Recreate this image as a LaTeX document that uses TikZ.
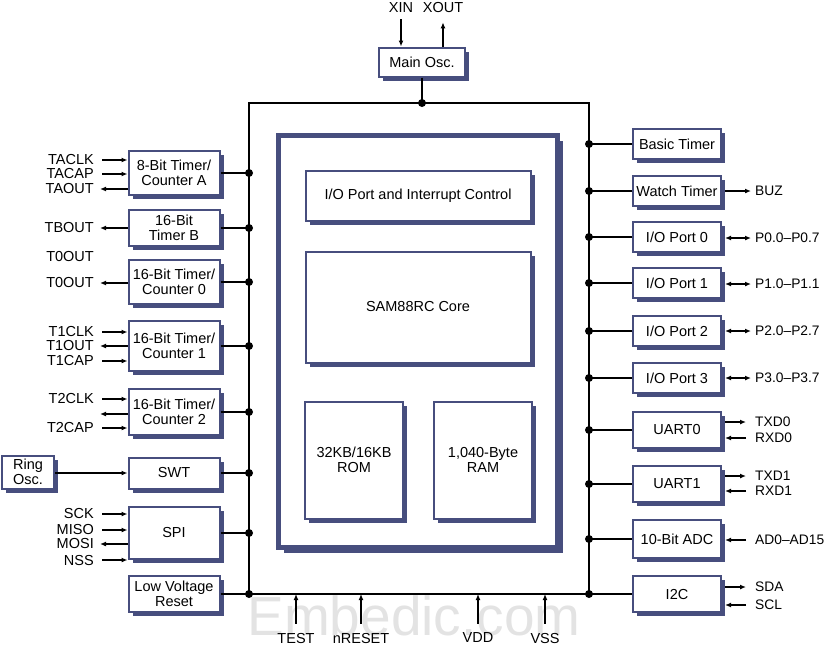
\documentclass[tikz,border=0pt]{standalone}
\usepackage{fontspec}
\setmainfont{Liberation Sans}
\usetikzlibrary{positioning,arrows.meta,calc,shadows}
\definecolor{samblue}{HTML}{474E7E}
\definecolor{wmgray}{HTML}{E3E3E3}
\tikzset{
  blk/.style={draw=samblue, line width=2pt, fill=white, align=center, inner sep=0pt,
    drop shadow={shadow xshift=#1, shadow yshift=-#1, fill=samblue, opacity=1}},
  blk/.default=4pt,
  coreblk/.style={blk=5.5pt, line width=5pt},
  lbox/.style={blk, minimum width=91pt},
  rbox/.style={blk, minimum width=88pt, minimum height=30pt},
  sig/.style={inner sep=0pt},
  lnk/.style={line width=1.2pt},
  sarr/.style={lnk, -{Latex[length=6pt,width=5pt]}},
  darr/.style={lnk, {Latex[length=6pt,width=5pt]}-{Latex[length=6pt,width=5pt]}}
}

\begin{document}
\begin{tikzpicture}[x=1pt, y=-1pt, font=\fontsize{14.5}{15}\selectfont]
    \useasboundingbox (0,0) rectangle (827,648);
    \node[sig, text=wmgray, font=\fontsize{55}{55}\selectfont] (wm) at (414,616) {Embedic.com};
    % core
    \node[coreblk, minimum width=279pt, minimum height=412pt] (core) at (418,341) {};
    \node[blk, minimum width=225pt, minimum height=50pt] (ioc) at (418,196) {I/O Port and Interrupt Control};
    \node[blk, minimum width=225pt, minimum height=111pt] (cpu) at (418,307) {SAM88RC Core};
    \node[blk, minimum width=98pt, minimum height=117pt] (rom) at (354,460) {32KB/16KB\\ROM};
    \node[blk, minimum width=98pt, minimum height=117pt] (ram) at (483,460) {1,040-Byte\\RAM};
    % bus
    \coordinate (tl) at (249,103); \coordinate (tr) at (589,103);
    \coordinate (bl) at (249,594); \coordinate (br) at (589,594);
    \draw[lnk] (bl) -- (tl) -- (tr) -- (br);
    % oscillator
    \node[blk, minimum width=86pt, minimum height=29pt] (osc) at (422,62) {Main Osc.};
    \node[sig] (xin) at (401,8) {XIN};
    \node[sig] (xout) at (443,8) {XOUT};
    \draw[sarr, shorten <=6pt] (xin.south) -- (xin.south |- osc.north);
    \draw[sarr, shorten >=9pt] (xout.south |- osc.north) -- (xout.south);
    \draw[lnk] (osc.south) -- (osc.south |- tl);
    \fill (osc.south |- tl) circle (4pt);
    % left blocks
    \node[lbox, minimum height=44pt] (tmrA) at (174,173) {8-Bit Timer/\\Counter A};
    \node[lbox, minimum height=36pt] (tmrB) at (174,228) {16-Bit\\Timer B};
    \node[lbox, minimum height=44pt] (tmr0) at (174,282) {16-Bit Timer/\\Counter 0};
    \node[lbox, minimum height=50pt] (tmr1) at (174,346) {16-Bit Timer/\\Counter 1};
    \node[lbox, minimum height=46pt] (tmr2) at (174,412) {16-Bit Timer/\\Counter 2};
    \node[lbox, minimum height=31pt] (swt) at (174,473) {SWT};
    \node[lbox, minimum height=52pt] (spi) at (174,533) {SPI};
    \node[lbox, minimum height=36pt] (lvr) at (174,594) {Low Voltage\\Reset};
    \node[blk, minimum width=52pt, minimum height=33pt] (rosc) at (28,472) {Ring\\Osc.};
    \draw[sarr] (rosc.east |- swt.west) -- (swt.west);
    \foreach \b in {tmrA,tmrB,tmr0,tmr1,tmr2,swt,spi}{
      \draw[lnk] (\b.east) -- (\b.east -| tl);
      \fill (\b.east -| tl) circle (4pt);
    }
    \foreach \n/\y/\t in {taclk/160/TACLK, tacap/174/TACAP, taout/189/TAOUT, tbout/228/TBOUT,
        t0cap/257/T0OUT, t0out/283/T0OUT, t1clk/332/T1CLK, t1out/346/T1OUT, t1cap/361/T1CAP,
        t2clk/399/T2CLK, t2cap/428/T2CAP, sck/514/SCK, miso/530/MISO, mosi/544/MOSI, nss/560/NSS}
      \node[sig, anchor=east] (\n) at (94,\y) {\t};
    \foreach \l/\b in {taclk/tmrA, tacap/tmrA, t1clk/tmr1, t1cap/tmr1, t2clk/tmr2, t2cap/tmr2,
        sck/spi, miso/spi, nss/spi}
      \draw[sarr, shorten <=8pt] (\l.east) -- (\l.east -| \b.west);
    \foreach \l/\b in {taout/tmrA, tbout/tmrB, t0out/tmr0, t1out/tmr1, mosi/spi}
      \draw[sarr, shorten >=6pt] (\l.east -| \b.west) -- (\l.east);
    \coordinate (t2o) at (100,414);
    \draw[sarr] (t2o -| tmr2.west) -- (t2o);
    % right blocks
    \node[rbox] (btmr) at (677,144) {Basic Timer};
    \node[rbox] (wtmr) at (677,191) {Watch Timer};
    \node[rbox] (io0) at (677,237) {I/O Port 0};
    \node[rbox] (io1) at (677,283) {I/O Port 1};
    \node[rbox] (io2) at (677,331) {I/O Port 2};
    \node[rbox] (io3) at (677,378) {I/O Port 3};
    \node[rbox, minimum height=36pt] (uart0) at (677,430) {UART0};
    \node[rbox, minimum height=36pt] (uart1) at (677,484) {UART1};
    \node[rbox, minimum height=38pt] (adc) at (677,539) {10-Bit ADC};
    \node[rbox, minimum height=36pt] (iic) at (677,594) {I2C};
    \foreach \b in {btmr,wtmr,io0,io1,io2,io3,uart0,uart1,adc}{
      \draw[lnk] (\b.west) -- (\b.west -| tr);
      \fill (\b.west -| tr) circle (4pt);
    }
    \draw[lnk] (lvr.east) -- (iic.west);
    \fill (bl) circle (4pt);
    \fill (br) circle (4pt);
    \foreach \n/\y/\t in {buz/191/BUZ, p0/238/P0.0–P0.7, p1/284/P1.0–P1.1, p2/331/P2.0–P2.7,
        p3/378/P3.0–P3.7, txd0/422/TXD0, rxd0/438/RXD0, txd1/476/TXD1, rxd1/491/RXD1,
        adin/540/AD0–AD15, sda/587/SDA, scl/605/SCL}
      \node[sig, anchor=west, font=\fontsize{13.8}{15}\selectfont] (\n) at (755,\y) {\t};
    \draw[sarr, shorten <=3pt, shorten >=4pt] (buz.west -| wtmr.east) -- (buz.west);
    \foreach \l/\b in {p0/io0, p1/io1, p2/io2, p3/io3}
      \draw[darr, shorten <=3pt, shorten >=4pt] (\l.west -| \b.east) -- (\l.west);
    \foreach \l/\b in {txd0/uart0, txd1/uart1, sda/iic}
      \draw[sarr, shorten <=3pt, shorten >=9pt] (\l.west -| \b.east) -- (\l.west);
    \foreach \l/\b in {rxd0/uart0, rxd1/uart1, adin/adc, scl/iic}
      \draw[sarr, shorten <=9pt, shorten >=3pt] (\l.west) -- (\l.west -| \b.east);
    % pins below
    \foreach \n/\x/\t in {test/296/TEST, nrst/361/nRESET, vdd/478/VDD, vss/545/VSS}{
      \node[sig] (\n) at (\x,638) {\t};
      \draw[sarr, shorten <=9pt] (\n.north) -- (\n.north |- bl);
    }
\end{tikzpicture}
\end{document}
